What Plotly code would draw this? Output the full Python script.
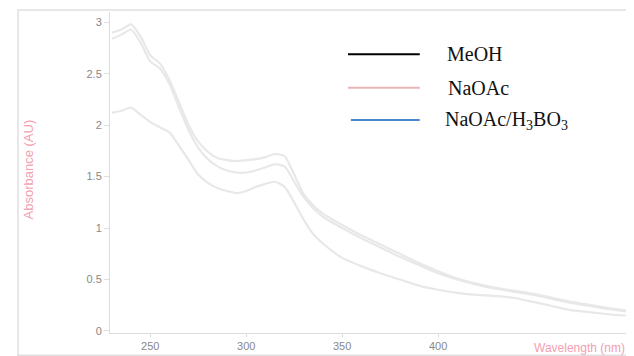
import plotly.graph_objects as go

wavelength = [230,235,240,245,250,255,260,265,270,275,280,285,290,295,300,305,310,315,320,325,330,335,340,350,360,370,380,390,400,410,420,430,440,450,460,470,480,490,498]

meoh = [2.90,2.93,2.98,2.86,2.68,2.60,2.44,2.22,2.00,1.84,1.74,1.68,1.66,1.65,1.66,1.67,1.69,1.72,1.70,1.52,1.33,1.22,1.14,1.03,0.93,0.84,0.75,0.66,0.58,0.51,0.46,0.42,0.39,0.36,0.32,0.28,0.25,0.22,0.20]
naoac = [2.84,2.88,2.93,2.80,2.62,2.55,2.40,2.17,1.95,1.78,1.67,1.60,1.56,1.54,1.54,1.56,1.59,1.62,1.60,1.45,1.30,1.19,1.11,1.00,0.90,0.81,0.72,0.64,0.56,0.50,0.45,0.41,0.38,0.35,0.31,0.27,0.24,0.21,0.19]
naoac_boric = [2.12,2.14,2.17,2.10,2.03,1.98,1.93,1.80,1.66,1.52,1.44,1.39,1.36,1.34,1.36,1.40,1.43,1.45,1.40,1.25,1.08,0.94,0.85,0.71,0.63,0.56,0.50,0.44,0.40,0.37,0.35,0.34,0.32,0.28,0.24,0.20,0.18,0.16,0.15]

series_names = ["MeOH", "NaOAc", "NaOAc/H<sub>3</sub>BO<sub>3</sub>"]
legend_colors = ["#000000", "#e8b4b4", "#4a86d0"]
y_ticks = [0, 0.5, 1, 1.5, 2, 2.5, 3]
y_tick_text = ["0", "0.5", "1", "1.5", "2", "2.5", "3"]
x_ticks = [250, 300, 350, 400]

fig = go.Figure()
for ys in [meoh, naoac, naoac_boric]:
    fig.add_trace(go.Scatter(x=wavelength, y=ys, mode="lines",
                             line=dict(color="#e8e8e8", width=2.2, shape="spline", smoothing=0.6),
                             showlegend=False, hoverinfo="skip"))

# page has an 8px body margin, so the figure is 8px smaller and offset
fig.update_layout(
    width=626, height=348,
    margin=dict(l=102, r=6, t=4, b=18),
    paper_bgcolor="white", plot_bgcolor="white",
    font=dict(family="Liberation Sans, Arial, sans-serif", color="#999999", size=11),
    xaxis=dict(range=[229, 499], tickvals=x_ticks, showgrid=False, zeroline=False,
               showline=True, linecolor="#dddddd", linewidth=1,
               ticks="outside", ticklen=3, tickcolor="#dddddd",
               tickfont=dict(size=11, color="#888888")),
    yaxis=dict(range=[-0.02, 3.10], tickvals=y_ticks, ticktext=y_tick_text,
               showgrid=False, zeroline=False,
               showline=True, linecolor="#dddddd", linewidth=1,
               ticks="outside", ticklen=5, tickcolor="#dddddd",
               tickfont=dict(size=11, color="#888888")),
    showlegend=False,
)

# outer frame of the scanned figure
fig.add_shape(type="rect", xref="paper", yref="paper",
              x0=-0.1776, x1=1.002, y0=-0.069, y1=1.006,
              line=dict(color="#e0e0e0", width=1.5), layer="below")

# axis titles
fig.add_annotation(text="Absorbance (AU)", xref="paper", yref="paper",
                   x=-0.158, y=0.51, xanchor="center", yanchor="middle",
                   textangle=-90, showarrow=False,
                   font=dict(size=13, color="#f4a0b0"))
fig.add_annotation(text="Wavelength (nm)", xref="paper", yref="paper",
                   x=0.998, y=-0.046, xanchor="right", yanchor="middle", showarrow=False,
                   font=dict(size=12, color="#f4a0b0"))

# legend drawn as in the reference
leg_y = [0.868, 0.764, 0.6635]
leg_x0 = [0.4595, 0.4595, 0.465]
leg_tx = [0.647, 0.649, 0.643]
for name, col, yy, x0, tx in zip(series_names, legend_colors, leg_y, leg_x0, leg_tx):
    fig.add_shape(type="line", xref="paper", yref="paper", x0=x0, x1=0.598, y0=yy, y1=yy,
                  line=dict(color=col, width=2))
    fig.add_annotation(text=name, xref="paper", yref="paper", x=tx, y=yy,
                       xanchor="left", yanchor="middle", showarrow=False,
                       font=dict(family="Liberation Serif, Times New Roman, serif", size=20, color="#111111"))

fig.write_html("out.html")
